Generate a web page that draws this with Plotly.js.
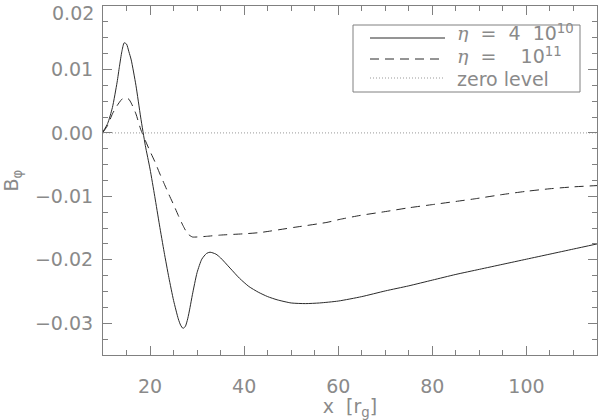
<!DOCTYPE html>
<html>
<head>
<meta charset="utf-8">
<script src="https://cdn.plot.ly/plotly-3.0.1.min.js"></script>
<style>html,body{margin:0;padding:0;background:#fff;}#chart{width:600px;height:420px;}</style>
</head>
<body>
<div id="chart"></div>
<script>
// eta = 4e10 (solid)
const xSolid = [10, 11, 12, 13, 13.5, 14, 14.5, 15, 15.5, 16, 17, 18, 19, 20, 21, 22, 23, 24, 25, 26, 26.5, 27, 27.5, 28, 28.5, 29, 30, 31, 32, 32.75, 34, 35, 37, 39, 41, 43, 45, 47, 50, 53, 56, 60, 65, 70, 75, 80, 85, 90, 95, 100, 105, 110, 115];
const ySolid = [0.0002, 0.0015, 0.0040, 0.0080, 0.0105, 0.0128, 0.0142, 0.0140, 0.0128, 0.0115, 0.0075, 0.0025, -0.0020, -0.0057, -0.0100, -0.0145, -0.0188, -0.0228, -0.0264, -0.0293, -0.0303, -0.0308, -0.0305, -0.0293, -0.0275, -0.0255, -0.0220, -0.0199, -0.0190, -0.0188, -0.0191, -0.0197, -0.0213, -0.0229, -0.0242, -0.0251, -0.0258, -0.0263, -0.0268, -0.0269, -0.0268, -0.0265, -0.0258, -0.0249, -0.0241, -0.0232, -0.0223, -0.0215, -0.0207, -0.0199, -0.0191, -0.0183, -0.0175];
// eta = 1e11 (dashed)
const xDashed = [10, 11, 12, 13, 14, 14.8, 15.5, 16, 17, 18, 19, 20, 21, 22, 23, 24, 25, 26, 27, 28, 29, 30, 32, 35, 40, 43.4, 50.5, 57.6, 60.5, 64.7, 70, 75, 80, 85, 88.9, 95, 100, 105, 110, 115];
const yDashed = [0.0001, 0.0012, 0.0030, 0.0043, 0.0053, 0.0056, 0.0053, 0.0047, 0.0030, 0.0006, -0.0012, -0.0029, -0.0045, -0.0063, -0.0080, -0.0097, -0.0113, -0.0130, -0.0146, -0.0159, -0.0164, -0.0164, -0.0163, -0.0161, -0.0159, -0.0157, -0.0149, -0.0141, -0.0136, -0.0130, -0.0124, -0.0118, -0.0113, -0.0108, -0.0104, -0.0097, -0.0092, -0.0088, -0.0085, -0.0083];
// zero level
const xZero = [10, 115];
const yZero = [0, 0];

const seriesNames = ['η = 4 10^10', 'η = 10^11', 'zero level'];

const xTickVals = [20, 40, 60, 80, 100];
const xTickText = ['20', '40', '60', '80', '100'];
const yTickVals = [0.02, 0.01, 0.00, -0.01, -0.02, -0.03];
const yTickText = ['0.02', '0.01', '0.00', '\u22120.01', '\u22120.02', '\u22120.03'];

const lineColor = '#2a2a2a';
const axisColor = '#808080';
const textColor = '#8a8a8a';
const fontFam = 'DejaVu Sans, sans-serif';
const solidDash = 'solid', dashedDash = '9px,6px', dotDash = '1px,2px';

const traces = [
  {x: xSolid, y: ySolid, name: seriesNames[0], mode: 'lines', line: {color: lineColor, width: 1, dash: solidDash, shape: 'spline', smoothing: 0.6}},
  {x: xDashed, y: yDashed, name: seriesNames[1], mode: 'lines', line: {color: lineColor, width: 1, dash: dashedDash, shape: 'spline', smoothing: 0.6}},
  {x: xZero, y: yZero, name: seriesNames[2], mode: 'lines', line: {color: '#999', width: 1, dash: dotDash}}
];

const axisCommon = {
  showgrid: false, zeroline: false, showline: true, linecolor: axisColor, linewidth: 1,
  mirror: 'allticks', ticks: 'inside', ticklen: 9, tickwidth: 1, tickcolor: axisColor,
  tickfont: {family: fontFam, size: 19, color: textColor}
};

// hand-placed legend (paper coordinates of the plot area)
const px = v => (v - 103) / 494;
const py = v => (355 - v) / 349;
const legRows = [38, 59, 78];
const legendShapes = [
  {type: 'rect', xref: 'paper', yref: 'paper', x0: px(353), x1: px(580), y0: py(92), y1: py(25), line: {color: axisColor, width: 1}},
  {type: 'line', xref: 'paper', yref: 'paper', x0: px(370), x1: px(445), y0: py(legRows[0]), y1: py(legRows[0]), line: {color: lineColor, width: 1, dash: solidDash}},
  {type: 'line', xref: 'paper', yref: 'paper', x0: px(370), x1: px(445), y0: py(legRows[1]), y1: py(legRows[1]), line: {color: lineColor, width: 1, dash: dashedDash}},
  {type: 'line', xref: 'paper', yref: 'paper', x0: px(370), x1: px(445), y0: py(legRows[2]), y1: py(legRows[2]), line: {color: '#999', width: 1, dash: dotDash}}
];
const legFont = {family: fontFam, size: 19, color: textColor};
const eta = '<span style="font-family:DejaVu Serif;font-style:italic">η</span>';
const nb = n => '\u00A0'.repeat(n);
const legendTexts = [
  eta + nb(2) + '=' + nb(2) + '4' + nb(2) + '10<sup>10</sup>',
  eta + nb(2) + '=' + nb(4) + '10<sup>11</sup>',
  'zero' + nb(1) + 'level'
];
const legendLift = [5, 4, 0];
const legendAnns = legendTexts.map((t, i) => ({
  text: t, xref: 'paper', yref: 'paper', x: px(455), y: py(legRows[i] - legendLift[i]),
  xanchor: 'left', yanchor: 'middle', showarrow: false, font: legFont, height: 19, valign: 'middle'
}));
// top y tick label, nudged down inside the figure as in the original
const topLabel = {
  text: yTickText[0], xref: 'paper', yref: 'y', x: 0, y: yTickVals[0], xanchor: 'right', yanchor: 'middle',
  xshift: -7, yshift: -7, showarrow: false, font: {family: fontFam, size: 19, color: textColor}
};
const yTickTextShown = yTickText.map((t, i) => i === 0 ? '' : t);

const layout = {
  width: 600, height: 420,
  margin: {l: 103, r: 3, t: 6, b: 65},
  paper_bgcolor: '#fff', plot_bgcolor: '#fff',
  showlegend: false,
  shapes: legendShapes,
  annotations: legendAnns.concat([topLabel]),
  xaxis: Object.assign({}, axisCommon, {
    range: [10, 115], tickmode: 'array', tickvals: xTickVals, ticktext: xTickText,
    ticklabelstandoff: 14,
    minor: {dtick: 5, ticklen: 5, tickcolor: axisColor, ticks: 'inside'},
    title: {text: 'x\u00A0\u00A0[r<sub>g</sub>]', font: {family: fontFam, size: 19, color: textColor}, standoff: 8}
  }),
  yaxis: Object.assign({}, axisCommon, {
    range: [-0.035, 0.0200001], tickmode: 'array', tickvals: yTickVals, ticktext: yTickTextShown,
    ticklabelstandoff: 5,
    minor: {dtick: 0.0025, tick0: 0, ticklen: 5, tickcolor: axisColor, ticks: 'inside'},
    title: {text: 'B<sub>φ</sub>', font: {family: fontFam, size: 19, color: textColor}, standoff: 16}
  })
};

Plotly.newPlot('chart', traces, layout, {staticPlot: true, displayModeBar: false});
</script>
</body>
</html>
